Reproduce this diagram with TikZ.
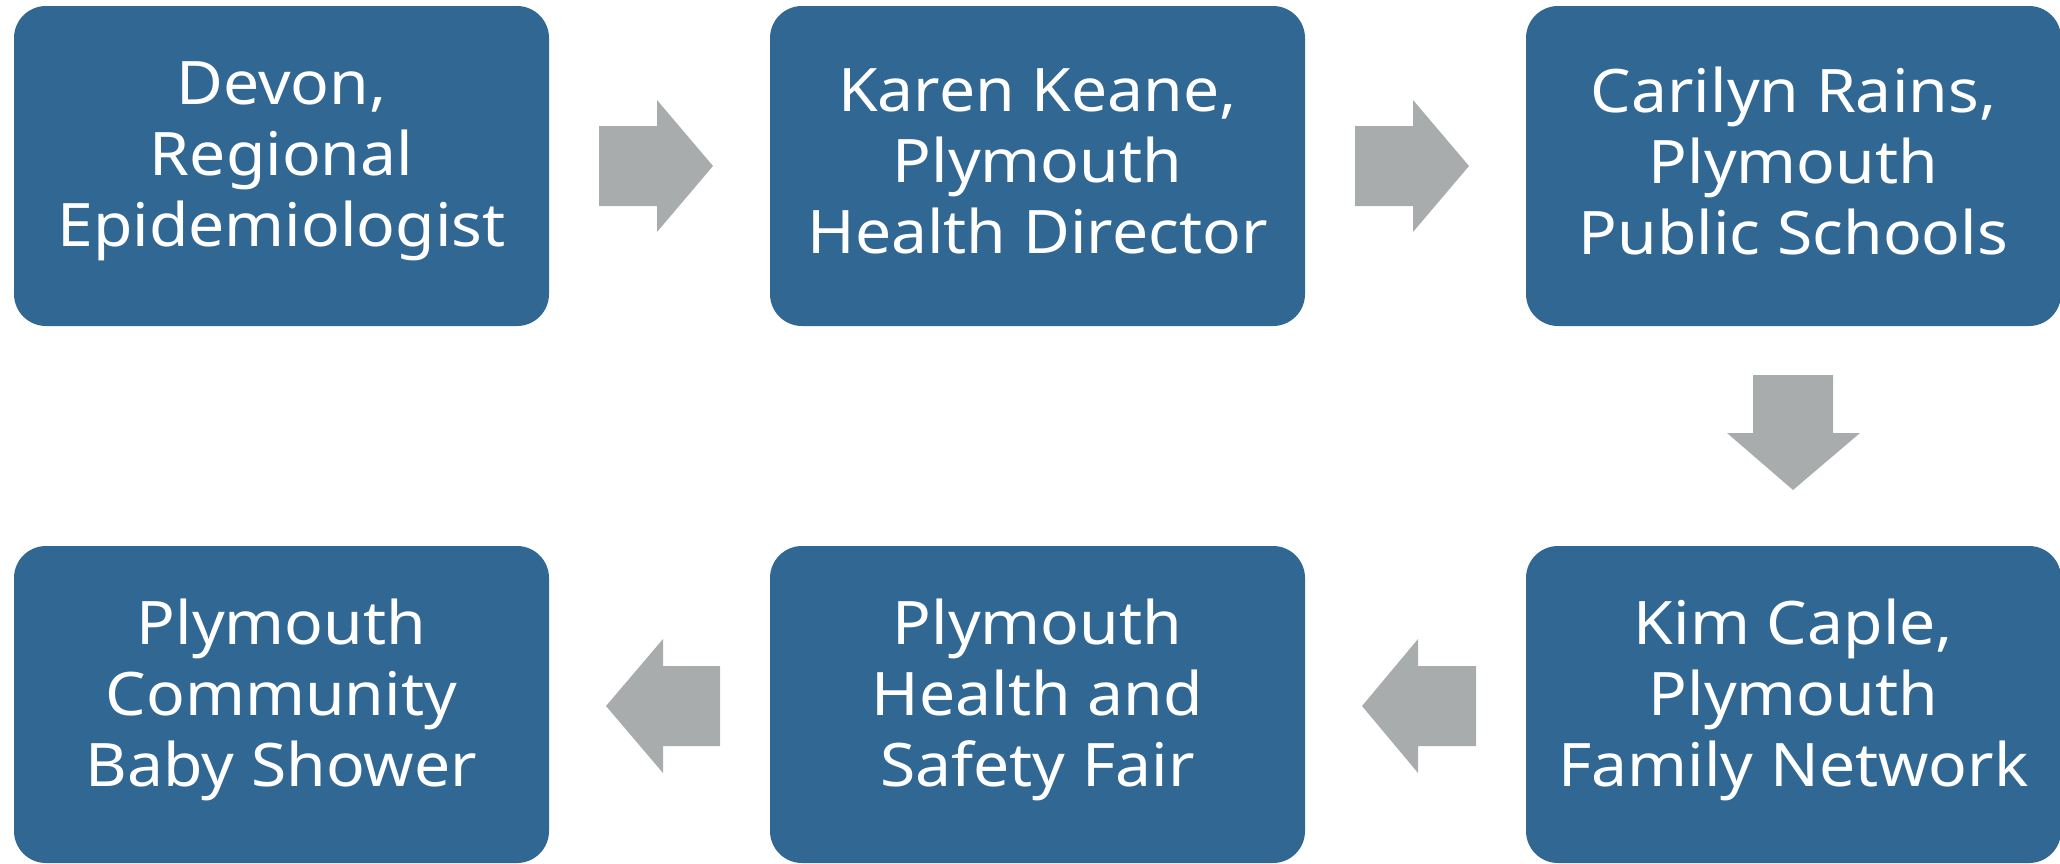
\documentclass[tikz,border=0pt]{standalone}
\usepackage{fontspec}
\setmainfont{Noto Sans}[FakeStretch=1.07]
\definecolor{boxblue}{RGB}{49,104,147}
\definecolor{arrowgray}{RGB}{169,172,173}
\begin{document}
\begin{tikzpicture}[x=1pt,y=-1pt,
  stage/.style={fill=boxblue,rounded corners=32pt,inner sep=0pt,
    minimum width=535pt,align=center,text=white,
    font=\fontsize{60}{71}\selectfont},
  toprow/.style={minimum height=320pt},
  botrow/.style={minimum height=317pt},
  lbl/.style={align=center,text=white,inner sep=0pt,
    font=\fontsize{60}{71}\selectfont},
  blockarrow/.style={fill=arrowgray}]
\useasboundingbox (0,0) rectangle (2060,863);
\node[stage,toprow] (a) at (281.5,166) {};
\node[stage,toprow] (b) at (1037.5,166) {};
\node[stage,toprow] (c) at (1793.5,166) {};
\node[stage,botrow] (d) at (1793.5,704.5) {};
\node[stage,botrow] (e) at (1037.5,704.5) {};
\node[stage,botrow] (f) at (281.5,704.5) {};
\node[lbl] (ta) at ([yshift=5pt]a.center) {Devon,\\Regional\\Epidemiologist};
\node[lbl] (tb) at ([yshift=5pt]b.center) {Karen Keane,\\Plymouth\\Health Director};
\node[lbl] (tc) at ([yshift=5pt]c.center) {Carilyn Rains,\\Plymouth\\Public Schools};
\node[lbl] (td) at ([yshift=5pt]d.center) {Kim Caple,\\Plymouth\\Family Network};
\node[lbl] (te) at ([yshift=5pt]e.center) {Plymouth\\Health and\\Safety Fair};
\node[lbl] (tf) at ([yshift=5pt]f.center) {Plymouth\\Community\\Baby Shower};
% block arrows
\fill[blockarrow] (599,126) -- (657,126) -- (657,100) -- (713,166) -- (657,232) -- (657,206) -- (599,206) -- cycle;
\fill[blockarrow] (1355,126) -- (1413,126) -- (1413,100) -- (1469,166) -- (1413,232) -- (1413,206) -- (1355,206) -- cycle;
\fill[blockarrow] (1753,375) -- (1833,375) -- (1833,433) -- (1860,433) -- (1793,490) -- (1727,433) -- (1753,433) -- cycle;
\fill[blockarrow] (1476,666) -- (1418,666) -- (1418,639) -- (1362,706) -- (1418,773) -- (1418,746) -- (1476,746) -- cycle;
\fill[blockarrow] (720,666) -- (663,666) -- (663,639) -- (606,706) -- (663,773) -- (663,746) -- (720,746) -- cycle;
\end{tikzpicture}
\end{document}
